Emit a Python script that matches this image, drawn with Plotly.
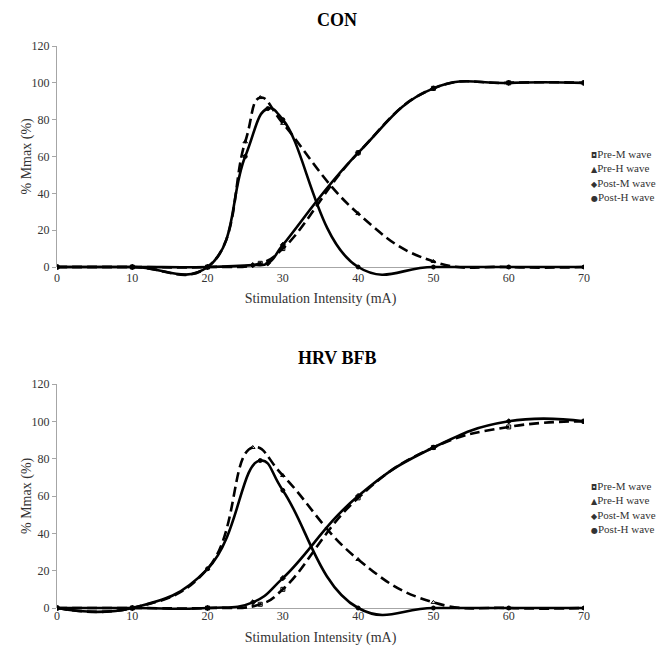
import plotly.graph_objects as go

# ---- data ----
tick_x = [0, 10, 20, 30, 40, 50, 60, 70]
tick_y = [0, 20, 40, 60, 80, 100, 120]
legend_names = ["Pre-M wave", "Pre-H wave", "Post-M wave", "Post-H wave"]
legend_glyphs = ["◘", "▲", "◆", "●"]

con_pre_m_x = [0, 10, 20, 27, 30, 40, 50, 60, 70]
con_pre_m_y = [0, 0, 0, 2, 10, 62, 97, 100, 100]
con_post_m_x = [0, 10, 20, 26, 28, 30, 40, 50, 60, 70]
con_post_m_y = [0, 0, 0, 1, 2, 12, 62, 97, 100, 100]
con_pre_h_x = [0, 10, 20, 25, 27, 30, 40, 50, 60, 70]
con_pre_h_y = [0, 0, 0, 68, 92, 78, 29, 3, 0, 0]
con_post_h_x = [0, 10, 20, 25, 28, 30, 40, 50, 60, 70]
con_post_h_y = [0, 0, 0, 60, 86, 80, 0, 0, 0, 0]

hrv_pre_m_x = [0, 10, 20, 27, 30, 40, 50, 60, 70]
hrv_pre_m_y = [0, 0, 0, 2, 10, 59, 86, 97, 100]
hrv_post_m_x = [0, 10, 20, 26, 30, 40, 50, 60, 70]
hrv_post_m_y = [0, 0, 0, 3, 16, 60, 86, 100, 100]
hrv_pre_h_x = [0, 10, 20, 26, 30, 40, 50, 60, 70]
hrv_pre_h_y = [0, 0, 21, 86, 71, 26, 3, 0, 0]
hrv_post_h_x = [0, 10, 20, 27, 30, 40, 50, 60, 70]
hrv_post_h_y = [0, 0, 21, 79, 63, 0, 0, 0, 0]

FONT = "Liberation Serif"
TXT = "#333333"
AX = "#a6a6a6"
W, H = 659, 651

fig = go.Figure()

def add(x, y, dashed, symbol, xa, ya):
    fig.add_trace(go.Scatter(
        x=x, y=y, mode="lines+markers", xaxis=xa, yaxis=ya, showlegend=False,
        line=dict(color="black", width=2.6, shape="spline", smoothing=1.3,
                  dash="10px,5px" if dashed else "solid"),
        marker=dict(symbol=symbol, size=4, color="black",
                    line=dict(color="black", width=1)),
        hoverinfo="x+y"))

add(con_pre_m_x, con_pre_m_y, True, "square-open", "x", "y")
add(con_pre_h_x, con_pre_h_y, True, "triangle-up-open", "x", "y")
add(con_post_m_x, con_post_m_y, False, "diamond", "x", "y")
add(con_post_h_x, con_post_h_y, False, "circle", "x", "y")

add(hrv_pre_m_x, hrv_pre_m_y, True, "square-open", "x2", "y2")
add(hrv_pre_h_x, hrv_pre_h_y, True, "triangle-up-open", "x2", "y2")
add(hrv_post_m_x, hrv_post_m_y, False, "diamond", "x2", "y2")
add(hrv_post_h_x, hrv_post_h_y, False, "circle", "x2", "y2")

# empty traces so that the visible 0-120 axes are drawn
for xa, ya in (("x", "y3"), ("x2", "y4")):
    fig.add_trace(go.Scatter(x=[None], y=[None], xaxis=xa, yaxis=ya,
                             mode="markers", showlegend=False, hoverinfo="skip"))

xdom = [57 / W, 584 / W]

def xaxis(anchor):
    return dict(domain=xdom, range=[0, 70], tickvals=tick_x, showgrid=False,
                zeroline=False, showline=False, ticks="", anchor=anchor,
                automargin=False, ticklabelstandoff=-10,
                tickfont=dict(family=FONT, size=12, color=TXT),
                title=dict(text="Stimulation Intensity (mA)", standoff=9,
                           font=dict(family=FONT, size=14, color=TXT)))

def ydata(dom, lo, anchor):
    return dict(domain=dom, range=[lo, 120], showgrid=False, automargin=False,
                zeroline=True, zerolinecolor=AX, zerolinewidth=1,
                showline=False, ticks="", showticklabels=False, anchor=anchor)

def ydeco(dom, anchor):
    return dict(domain=dom, range=[0, 120], tickvals=tick_y, showgrid=False,
                zeroline=False, showline=True, linecolor=AX, linewidth=1,
                ticks="outside", ticklen=4, tickcolor=AX, anchor=anchor,
                automargin=False,
                tickfont=dict(family=FONT, size=12, color=TXT))

t120, t0 = 46, 267
b120, b0 = 384, 608
tlo, blo = -6.5, -5.0
tbot = t0 + (t0 - t120) / 120 * (-tlo)
bbot = b0 + (b0 - b120) / 120 * (-blo)

fig.update_layout(
    width=W, height=H, margin=dict(l=0, r=0, t=0, b=0),
    paper_bgcolor="white", plot_bgcolor="rgba(0,0,0,0)", showlegend=False,
    xaxis=xaxis("y"),
    yaxis=ydata([1 - tbot / H, 1 - t120 / H], tlo, "x"),
    xaxis2=xaxis("y2"),
    yaxis2=ydata([1 - bbot / H, 1 - b120 / H], blo, "x2"),
    yaxis3=ydeco([1 - t0 / H, 1 - t120 / H], "x"),
    yaxis4=ydeco([1 - b0 / H, 1 - b120 / H], "x2"),
)

# y-axis titles
for yc in ((t0 + t120) / 2, (b0 + b120) / 2):
    fig.add_annotation(xref="paper", yref="paper", x=27 / W, y=1 - yc / H,
                       xanchor="center", yanchor="middle", showarrow=False,
                       textangle=-90, text="% Mmax (%)",
                       font=dict(family=FONT, size=14, color=TXT))

# legends (marker glyph + name)
legend_text = "<br>".join(
    f"<span style='font-family:DejaVu Sans;font-size:8px'>{g}</span>{n}"
    for g, n in zip(legend_glyphs, legend_names))
for ystart in (146, 478):
    fig.add_annotation(xref="paper", yref="paper", x=589 / W, y=1 - ystart / H,
                       xanchor="left", yanchor="top", align="left", showarrow=False,
                       text=legend_text, font=dict(family=FONT, size=11, color=TXT))

for title, ypx in (("<b>CON</b>", 20), ("<b>HRV BFB</b>", 358)):
    fig.add_annotation(xref="paper", yref="paper", x=337 / W, y=1 - ypx / H,
                       xanchor="center", yanchor="middle", showarrow=False,
                       text=title, font=dict(family=FONT, size=18, color="black"))

fig.write_html("out.html", config={"displayModeBar": False},
               post_script="document.body.style.margin='0';document.body.style.overflow='hidden';")
